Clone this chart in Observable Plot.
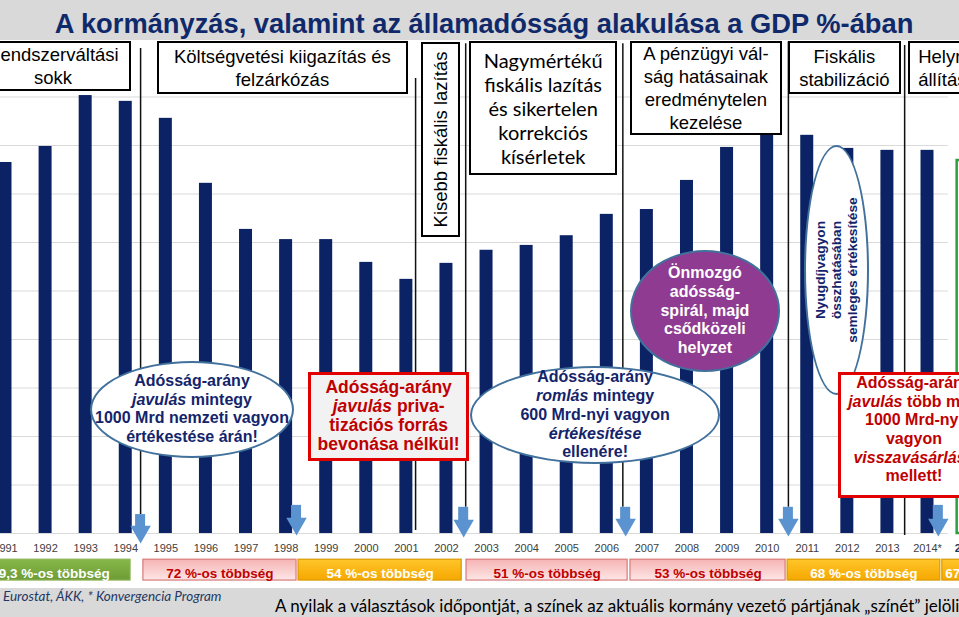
<!DOCTYPE html>
<html lang="hu">
<head>
<meta charset="utf-8">
<script src="https://cdn.jsdelivr.net/npm/d3@7"></script>
<script src="https://cdn.jsdelivr.net/npm/@observablehq/plot@0.6"></script>
<style>
html,body{margin:0;padding:0;background:#fff;}
#page{position:relative;width:959px;height:617px;overflow:hidden;font-family:"Liberation Sans",Arial,sans-serif;}
#title{height:40px;background:#d9d9d9;color:#10296b;font-weight:bold;font-size:27.3px;line-height:48px;text-align:center;white-space:nowrap;padding-left:9px;box-sizing:border-box;}
#plot{position:relative;width:959px;height:548px;}
#plot svg{position:absolute;left:0;top:0;overflow:visible;}
#footer{position:relative;height:29px;background:#d9d9d9;white-space:nowrap;}
#src{position:absolute;left:3px;top:2px;font-family:Lato,"Open Sans",sans-serif;font-style:italic;font-size:13.5px;line-height:1;color:#1f3864;}
#note{position:absolute;left:275px;top:8.5px;font-family:Lato,"Open Sans",sans-serif;font-size:17px;line-height:1;color:#000;}
.ann{position:absolute;box-sizing:border-box;display:flex;align-items:center;justify-content:center;text-align:center;white-space:nowrap;}
.era{background:#fff;border:2px solid #000;color:#000;font-size:18.5px;line-height:23px;}
.lato{font-family:Lato,"Open Sans",sans-serif;font-size:20px;line-height:24px;}
.ell{border-radius:50%;border:2.5px solid #41719c;background:#fff;color:#14246b;font-weight:bold;font-size:16px;line-height:18.8px;}
.purple{background:#8e3b91;color:#fff;}
.redbox{border:3px solid #e00000;color:#c00000;font-weight:bold;font-size:16px;line-height:18.7px;}
.big{font-size:17.5px;line-height:19px;}
.vert{display:block;transform:rotate(-90deg);white-space:nowrap;}
.small{font-size:13.7px;line-height:16px;}
</style>
</head>
<body>
<div id="page">
  <div id="title">A kormányzás, valamint az államadósság alakulása a GDP %-ában</div>
  <div id="plot"></div>
  <div id="footer"><span id="src">Eurostat, ÁKK, * Konvergencia Program</span><span id="note">A nyilak a választások időpontját, a színek az aktuális kormány vezető pártjának „színét” jelölik</span></div>
</div>
<script>
// ---- chart data ----
const years = [1991,1992,1993,1994,1995,1996,1997,1998,1999,2000,2001,2002,2003,2004,2005,2006,2007,2008,2009,2010,2011,2012,2013,2014,2015];
const yearLabels = ["1991","1992","1993","1994","1995","1996","1997","1998","1999","2000","2001","2002","2003","2004","2005","2006","2007","2008","2009","2010","2011","2012","2013","2014*","2015"];
const debtRatio = [76.5,79.8,90.3,89.1,85.6,72.2,62.7,60.6,60.6,55.9,52.4,55.7,58.4,59.4,61.4,65.8,66.8,72.8,79.6,82.1,82.1,79.4,79.0,79.0,76.9];
const forecastYears = [2015];
const gridValues = [0,10,20,30,40,50,60,70,80,90];

// elections (arrows) and era separators
const electionDates = [1994.37,1998.26,2002.43,2006.47,2010.53,2014.27];
const arrowTop = [3.9,5.8,5.4,5.4,5.4,5.8];
const arrowTip = [-2.06,-0.4,-0.8,-0.6,-0.6,-0.6];
const eraBreaks = [1994.37,2001.23,2002.48,2006.40,2010.53,2013.43];
const eraBreakTop = [100,93.8,101,101,101.4,100.6];
const eraBreakBottom = [3.9,0.6,5.4,5.4,5.4,-0.4];

// governing majorities
const govLabels = ["59,3 %-os többség","72 %-os többség","54 %-os többség","51 %-os többség","53 %-os többség","68 %-os többség","67 %-os többség"];
const govFrom = [1990.13,1994.44,1998.31,2002.50,2006.59,2010.51,2014.37];
const govTo = [1994.12,1998.26,2002.38,2006.52,2010.46,2014.32,2017.19];
const govParty = ["MDF","MSZP","Fidesz","MSZP","MSZP","Fidesz","Fidesz"];

// annotation texts
const eraTexts = ["Rendszerváltási<br>sokk","Költségvetési kiigazítás és<br>felzárkózás","Kisebb fiskális lazítás","Nagymértékű<br>fiskális lazítás<br>és sikertelen<br>korrekciós<br>kísérletek","A pénzügyi vál-<br>ság hatásainak<br>eredménytelen<br>kezelése","Fiskális<br>stabilizáció","Helyre-<br>állítás"];
const calloutTexts = [
  "Adósság-arány<br><i>javulás</i> mintegy<br>1000 Mrd nemzeti vagyon<br>értékestése árán!",
  "Adósság-arány<br><i>javulás</i> priva-<br>tizációs forrás<br>bevonása nélkül!",
  "Adósság-arány<br><i>romlás</i> mintegy<br>600 Mrd-nyi vagyon<br><i>értékesítése</i><br>ellenére!",
  "Önmozgó<br>adósság-<br>spirál, majd<br>csődközeli<br>helyzet",
  "Nyugdíjvagyon<br>összhatásában<br>semleges értékesítése",
  "Adósság-arány<br><i>javulás</i> több mint<br>1000 Mrd-nyi<br>vagyon<br><i>visszavásárlása</i><br>mellett!"
];

// ---- annotation layout (in data units: years / % of GDP) ----
const eraLayout = [
  {x1:1990.25,x2:1994.14,top:101.4,bottom:91.1},
  {x1:1994.79,x2:2001.05,top:101.4,bottom:90.5},
  {x1:2001.38,x2:2002.35,top:101.2,bottom:61.0,vertical:true},
  {x1:2002.58,x2:2006.27,top:101.4,bottom:73.8,cls:"lato"},
  {x1:2006.59,x2:2010.38,top:101.4,bottom:82.1},
  {x1:2010.53,x2:2013.35,top:101.4,bottom:90.5},
  {x1:2013.53,x2:2016.07,top:101.4,bottom:90.5,left:true}
];
const calloutLayout = [
  {x1:1993.12,x2:1998.21,top:35.5,bottom:15.5,cls:"ell"},
  {x1:1998.56,x2:2002.58,top:33.2,bottom:14.85,cls:"redbox big",bg:"#f2f2f2"},
  {x1:2002.60,x2:2008.84,top:34.4,bottom:14.2,cls:"ell"},
  {x1:2006.59,x2:2010.33,top:58.35,bottom:33.2,cls:"ell purple"},
  {x1:2010.93,x2:2012.55,top:80.0,bottom:28.45,cls:"ell",vertical:true,small:true},
  {x1:2011.78,x2:2015.57,top:33.2,bottom:7.22,cls:"redbox",bg:"#ffffff",padBottom:10}
];

// ---- styles ----
const partyStyle = {
  MDF: {fill:"url(#gGreen)", stroke:"#8db356", text:"#ffffff"},
  MSZP: {fill:"url(#gPink)", stroke:"#d87a7a", text:"#c00000"},
  Fidesz: {fill:"url(#gOrange)", stroke:"#d99a00", text:"#ffffff"}
};

// ---- tables ----
const bars = years.map((year, i) => ({year, label: yearLabels[i], value: debtRatio[i], forecast: forecastYears.includes(year)}));
const actual = bars.filter(d => !d.forecast);
const forecast = bars.filter(d => d.forecast);
const arrows = electionDates.map((x, i) => ({x, top: arrowTop[i], tip: arrowTip[i]}));
const eras = eraBreaks.map((x, i) => ({x, top: eraBreakTop[i], bottom: eraBreakBottom[i]}));
const gov = govLabels.map((label, i) => ({label, from: govFrom[i], to: govTo[i], party: govParty[i]}));

const barHalf = 0.162;
const arrowColor = "#5a93cf";

const chart = Plot.plot({
  width: 959, height: 548,
  marginTop: 8, marginBottom: 55, marginLeft: 5, marginRight: 32,
  x: {domain: [1991, 2014], axis: null},
  y: {domain: [0, 100], axis: null},
  color: {type: "identity"},
  style: {fontFamily: "'Liberation Sans', Arial, sans-serif", overflow: "visible", background: "transparent"},
  marks: [
    Plot.ruleY(gridValues, {x1: 1990.87, x2: 2014.52, stroke: "#d9d9d9", strokeWidth: 1}),
    Plot.rectY(actual, {x1: d => d.year - barHalf, x2: d => d.year + barHalf, y: "value", fill: "#0b2265"}),
    Plot.rectY(forecast, {x1: d => d.year - 0.26, x2: d => d.year + 0.1, y: "value", fill: "#ffffff", stroke: "#2e9e3e", strokeWidth: 2.5}),
    Plot.ruleX(eras, {x: "x", y1: "top", y2: "bottom", stroke: "#111", strokeWidth: 1.5}),
    Plot.rect(arrows, {x1: d => d.x - 0.125, x2: d => d.x + 0.125, y1: "top", y2: d => d.tip + 2.4, fill: arrowColor}),
    Plot.dot(arrows, {x: "x", y: "tip", symbol: "triangle", r: 7.6, rotate: 180, dy: -11.8, fill: arrowColor, stroke: "none"}),
    Plot.text(actual, {x: "year", y: -3.1, text: "label", fontSize: 11, fill: "#404040"}),
    Plot.text(forecast, {x: "year", y: -3.1, text: "label", fontSize: 11.5, fontWeight: "bold", fill: "#1f3864"}),
    Plot.rect(gov, {x1: "from", x2: "to", y1: -5.4, y2: -9.7, fill: d => partyStyle[d.party].fill, stroke: d => partyStyle[d.party].stroke, strokeWidth: 1.2}),
    Plot.text(gov, {x: d => (d.from + d.to) / 2, y: -8.3, text: "label", fill: d => partyStyle[d.party].text, fontSize: 13.5, fontWeight: "bold"})
  ]
});

d3.select(chart).insert("defs", ":first-child").html(
  '<linearGradient id="gPink" x1="0" y1="0" x2="0" y2="1"><stop offset="0" stop-color="#f6b3b3"/><stop offset="1" stop-color="#fde6e6"/></linearGradient>' +
  '<linearGradient id="gOrange" x1="0" y1="0" x2="0" y2="1"><stop offset="0" stop-color="#ffc52a"/><stop offset="1" stop-color="#f6a800"/></linearGradient>' +
  '<linearGradient id="gGreen" x1="0" y1="0" x2="0" y2="1"><stop offset="0" stop-color="#86b84a"/><stop offset="1" stop-color="#6e9c35"/></linearGradient>'
);

const plotDiv = document.getElementById("plot");
plotDiv.appendChild(chart);
const sx = chart.scale("x"), sy = chart.scale("y");

function place(el, d) {
  const l = sx.apply(d.x1), r = sx.apply(d.x2), t = sy.apply(d.top), b = sy.apply(d.bottom);
  el.style.left = l + "px";
  el.style.top = t + "px";
  el.style.width = (r - l) + "px";
  el.style.height = (b - t) + "px";
}

eraLayout.forEach((d, i) => {
  const el = document.createElement("div");
  el.className = "ann era" + (d.cls ? " " + d.cls : "");
  place(el, d);
  if (d.vertical) el.innerHTML = '<span class="vert">' + eraTexts[i] + '</span>';
  else el.innerHTML = '<div>' + eraTexts[i] + '</div>';
  if (d.left) { el.style.justifyContent = "flex-start"; el.style.textAlign = "left"; el.style.paddingLeft = "8px"; }
  plotDiv.appendChild(el);
});

calloutLayout.forEach((d, i) => {
  const el = document.createElement("div");
  el.className = "ann " + d.cls;
  place(el, d);
  if (d.bg) el.style.background = d.bg;
  if (d.padBottom) el.style.paddingBottom = d.padBottom + "px";
  if (d.vertical) el.innerHTML = '<span class="vert' + (d.small ? " small" : "") + '">' + calloutTexts[i] + '</span>';
  else el.innerHTML = '<div>' + calloutTexts[i] + '</div>';
  plotDiv.appendChild(el);
});
</script>
</body>
</html>
